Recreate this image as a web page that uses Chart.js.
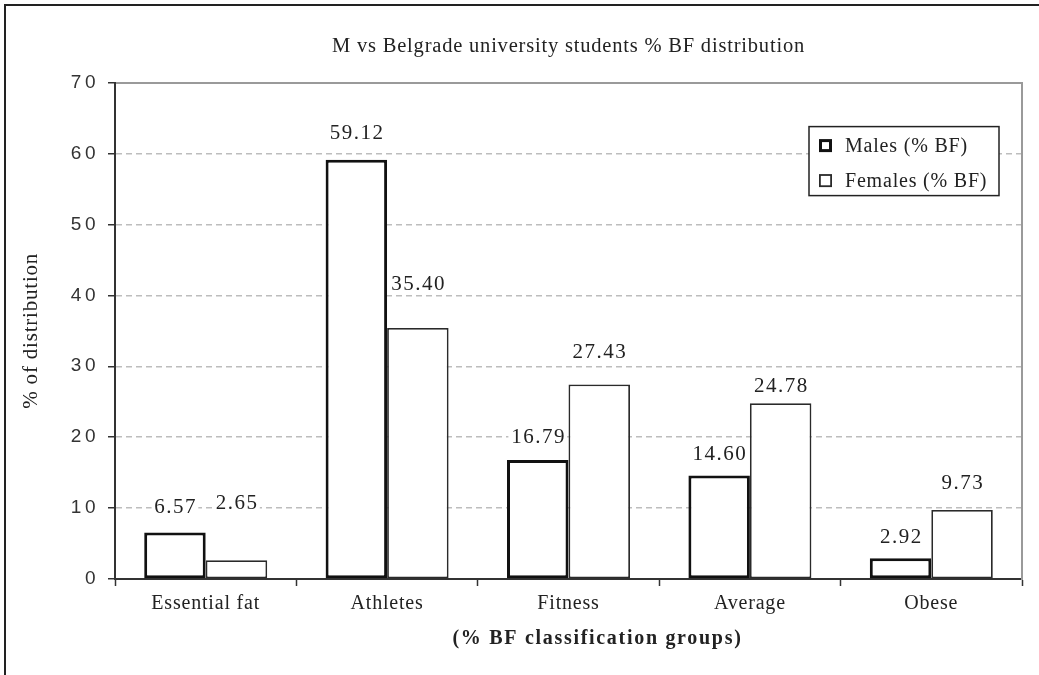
<!DOCTYPE html>
<html>
<head>
<meta charset="utf-8">
<script src="https://cdn.jsdelivr.net/npm/chart.js@4/dist/chart.umd.min.js"></script>
<style>
  html, body { margin: 0; padding: 0; background: #fff; overflow: hidden; }
  #wrap { position: relative; width: 1039px; height: 675px; }
  #wrap canvas { position: absolute; left: 0; top: 0; }
  #frame { position: absolute; left: 4px; top: 4px; width: 1100px; height: 720px;
           border-left: 2px solid #222; border-top: 2px solid #222; pointer-events: none; }
</style>
</head>
<body>
<div id="wrap">
  <canvas id="chart" width="1039" height="675"></canvas>
  <div id="frame"></div>
</div>
<script>
// % BF classification groups and the share of students in each
const groups = ['Essential fat', 'Athletes', 'Fitness', 'Average', 'Obese'];
const seriesNames = ['Males (% BF)', 'Females (% BF)'];
const males = [6.57, 59.12, 16.79, 14.60, 2.92];
const females = [2.65, 35.40, 27.43, 24.78, 9.73];
const yTicks = [0, 10, 20, 30, 40, 50, 60, 70];

const chartTitle = 'M vs Belgrade university students % BF distribution';
const yAxisTitle = '% of distribution';
const xAxisTitle = '(% BF classification groups)';

// how far (px) each value label sits above the top of its bar
const maleLabelLift = [26, 28, 23.5, 22, 22];
const femaleLabelLift = [58.5, 45, 33.6, 18.5, 28.5];

const serif = "'Liberation Serif', 'Times New Roman', serif";
const sans = "'Liberation Sans', Arial, sans-serif";

// value labels, x-axis caption and the boxed legend
const annotations = {
  id: 'annotations',
  beforeDraw(chart) {
    chart.ctx.letterSpacing = '0.8px';
  },
  afterDatasetsDraw(chart) {
    const ctx = chart.ctx;
    const area = chart.chartArea;
    const lifts = [maleLabelLift, femaleLabelLift];
    ctx.save();

    ctx.letterSpacing = '1.5px';
    ctx.font = `21px ${serif}`;
    ctx.textAlign = 'center';
    ctx.textBaseline = 'alphabetic';
    chart.data.datasets.forEach((ds, di) => {
      chart.getDatasetMeta(di).data.forEach((bar, i) => {
        const txt = ds.data[i].toFixed(2);
        const cy = bar.y - lifts[di][i];
        const w = ctx.measureText(txt).width;
        ctx.fillStyle = '#fff';
        ctx.fillRect(bar.x - w / 2 - 2, cy - 9, w + 4, 18);
        ctx.fillStyle = '#222';
        ctx.fillText(txt, bar.x + 0.75, cy + 7);
      });
    });

    ctx.letterSpacing = '1.7px';
    ctx.font = `bold 20px ${serif}`;
    ctx.fillStyle = '#222';
    ctx.fillText(xAxisTitle, (area.left + area.right) / 2 + 29, area.bottom + 65);

    const lx = area.right - 213, ly = area.top + 44, lw = 190, lh = 69;
    ctx.fillStyle = '#fff';
    ctx.fillRect(lx, ly, lw, lh);
    ctx.lineWidth = 1.5;
    ctx.strokeStyle = '#222';
    ctx.strokeRect(lx, ly, lw, lh);
    ctx.letterSpacing = '0.8px';
    ctx.font = `20px ${serif}`;
    ctx.textAlign = 'left';
    chart.data.datasets.forEach((ds, di) => {
      const rowY = ly + 19 + di * 35;
      const bw = ds.borderWidth;
      const s = 13;
      ctx.lineWidth = bw;
      ctx.strokeStyle = ds.borderColor;
      ctx.strokeRect(lx + 10 + bw / 2, rowY - s / 2 + bw / 2, s - bw, s - bw);
      ctx.fillStyle = '#222';
      ctx.fillText(ds.label, lx + 36, rowY + 6.6);
    });

    ctx.restore();
    // spaced digits on the value axis (drawn in the layer after datasets)
    ctx.letterSpacing = '3.5px';
  },
  afterDraw(chart) {
    chart.ctx.letterSpacing = '0px';
  }
};

new Chart(document.getElementById('chart'), {
  type: 'bar',
  data: {
    labels: groups,
    datasets: [
      {
        label: seriesNames[0], data: males,
        backgroundColor: '#fff', borderColor: '#111', borderWidth: 3,
        borderSkipped: false, categoryPercentage: 0.678, barPercentage: 1,
        xAxisID: 'x', yAxisID: 'y'
      },
      {
        label: seriesNames[1], data: females,
        backgroundColor: '#fff', borderColor: '#2a2a2a', borderWidth: 1.8,
        borderSkipped: false, categoryPercentage: 0.678, barPercentage: 1,
        xAxisID: 'x', yAxisID: 'y'
      }
    ]
  },
  options: {
    responsive: false,
    animation: false,
    events: [],
    layout: { padding: { left: 0, right: 17, top: 0, bottom: 53 } },
    plugins: {
      legend: { display: false },
      tooltip: { enabled: false },
      title: {
        display: true, text: chartTitle, fullSize: false, color: '#222',
        font: { family: serif, size: 20.5, weight: 'normal' },
        padding: { top: 34, bottom: 24 }
      }
    },
    scales: {
      x: {
        type: 'category', position: 'bottom', offset: true,
        grid: { display: true, offset: true, color: 'rgba(0,0,0,0)', drawTicks: true,
                tickLength: 7, tickColor: '#333', tickWidth: 1.5 },
        border: { display: true, color: '#333', width: 2 },
        ticks: { color: '#222', font: { family: serif, size: 20 }, padding: 6,
                 maxRotation: 0, autoSkip: false }
      },
      xTop: {
        type: 'category', position: 'top', offset: true,
        grid: { display: false, drawTicks: false },
        border: { display: true, color: '#9a9a9a', width: 2 },
        ticks: { display: false }
      },
      y: {
        type: 'linear', position: 'left',
        min: yTicks[0], max: yTicks[yTicks.length - 1],
        afterBuildTicks: (s) => { s.ticks = yTicks.map(v => ({ value: v })); },
        afterFit: (s) => { s.width = 115; },
        grid: {
          color: (c) => (c.tick && c.tick.value > yTicks[0] && c.tick.value < yTicks[yTicks.length - 1]) ? '#bdbdbd' : 'rgba(0,0,0,0)',
          lineWidth: 1.5, drawTicks: true, tickLength: 7, tickColor: '#333', tickWidth: 1.5
        },
        border: { display: true, color: '#333', width: 2, dash: [6, 4] },
        ticks: { z: 1, color: '#333', padding: 9, font: { family: sans, size: 19 } },
        title: {
          display: true, text: yAxisTitle, color: '#222',
          font: { family: serif, size: 21 }, padding: { top: 19, bottom: 0 }
        }
      },
      yRight: {
        type: 'linear', position: 'right',
        min: yTicks[0], max: yTicks[yTicks.length - 1],
        grid: { display: false, drawTicks: false },
        border: { display: true, color: '#9a9a9a', width: 2 },
        ticks: { display: false }
      }
    }
  },
  plugins: [annotations]
});
</script>
</body>
</html>
